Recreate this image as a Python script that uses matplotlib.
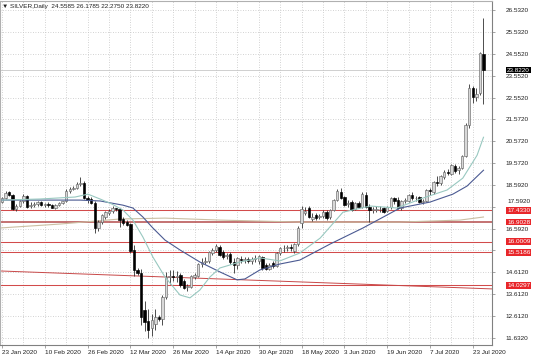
"""SILVER daily candlestick chart, MetaTrader style."""

import matplotlib

matplotlib.use("Agg")
import matplotlib.pyplot as plt
from matplotlib.ticker import FixedLocator
import matplotlib.transforms as mtransforms

# daily bars, 23 Jan 2020 .. 28 Jul 2020 (server calendar incl. 3 Sunday bars)
OPENS = [
    17.82, 17.98, 18.25, 18.12, 17.50, 17.62, 17.85, 18.08, 17.62, 17.68,
    17.70, 17.80, 17.68, 17.70, 17.66, 17.56, 17.68, 17.76, 17.86, 18.30,
    18.42, 18.46, 18.62, 18.68, 18.00, 17.95, 17.78, 16.62, 16.90, 17.15,
    17.30, 17.40, 17.52, 17.48, 17.05, 16.90, 16.80, 15.65, 14.72, 14.60,
    12.90, 12.40, 12.10, 12.25, 12.58, 12.50, 13.50, 14.40, 14.45, 14.40,
    14.50, 14.20, 13.95, 13.95, 14.40, 14.45, 14.98, 15.10, 15.15, 15.50,
    15.62, 15.75, 15.55, 15.35, 15.45, 15.10, 14.95, 15.20, 15.18, 15.20,
    15.15, 15.20, 15.15, 15.30, 14.95, 14.78, 15.05, 14.90, 15.48, 15.70,
    15.72, 15.75, 15.60, 15.90, 16.86, 17.30, 17.52, 17.05, 17.20, 17.15,
    17.18, 17.35, 17.12, 17.45, 17.90, 18.28, 18.02, 17.70, 17.80, 17.50,
    17.76, 17.58, 18.15, 17.58, 17.45, 17.47, 17.48, 17.52, 17.40, 17.58,
    17.98, 17.92, 17.52, 17.85, 17.88, 18.15, 17.98, 18.02, 17.82, 17.88,
    18.35, 18.25, 18.72, 18.68, 18.95, 19.20, 19.10, 19.45, 19.25, 19.35,
    19.90, 21.30, 22.99, 22.58, 22.76, 24.5585,
]
HIGHS = [
    18.05, 18.30, 18.32, 18.18, 17.70, 17.92, 18.20, 18.12, 17.80, 17.82,
    17.88, 17.85, 17.78, 17.80, 17.72, 17.72, 17.80, 17.88, 18.40, 18.50,
    18.55, 18.72, 18.95, 18.75, 18.10, 18.05, 17.85, 16.98, 17.25, 17.40,
    17.50, 17.62, 17.55, 17.55, 17.15, 17.00, 16.85, 15.85, 14.80, 14.75,
    13.30, 12.95, 12.70, 12.95, 12.65, 13.60, 14.62, 14.70, 14.70, 14.65,
    14.60, 14.30, 14.10, 14.50, 14.60, 15.05, 15.25, 15.30, 15.60, 15.70,
    15.92, 15.85, 15.65, 15.50, 15.55, 15.25, 15.30, 15.35, 15.30, 15.32,
    15.30, 15.40, 15.42, 15.35, 15.05, 15.05, 15.12, 15.55, 15.78, 15.85,
    15.85, 15.88, 15.95, 16.70, 17.62, 17.58, 17.62, 17.30, 17.30, 17.25,
    17.45, 17.45, 17.50, 17.95, 18.40, 18.45, 18.10, 17.90, 17.90, 17.82,
    17.85, 18.28, 18.25, 17.70, 17.58, 17.65, 17.62, 17.60, 17.65, 18.05,
    18.05, 18.02, 17.90, 17.98, 18.18, 18.25, 18.08, 18.10, 17.95, 18.40,
    18.45, 18.78, 19.00, 19.05, 19.25, 19.30, 19.55, 19.55, 19.45, 19.95,
    21.40, 23.20, 23.10, 23.00, 24.65, 26.1785,
]
LOWS = [
    17.75, 17.95, 18.08, 17.45, 17.40, 17.58, 17.78, 17.55, 17.55, 17.60,
    17.62, 17.62, 17.58, 17.58, 17.52, 17.50, 17.62, 17.70, 17.82, 18.22,
    18.35, 18.40, 18.55, 17.95, 17.78, 17.70, 16.40, 16.50, 16.82, 17.05,
    17.20, 17.30, 17.40, 16.68, 16.75, 16.70, 15.50, 14.45, 14.50, 12.20,
    11.95, 11.64, 11.70, 12.00, 12.40, 12.20, 13.40, 14.10, 14.20, 14.15,
    13.95, 13.85, 13.75, 13.90, 14.30, 14.40, 14.85, 15.00, 15.05, 15.40,
    15.55, 15.35, 15.20, 15.20, 15.00, 14.60, 14.75, 15.05, 15.05, 15.05,
    15.00, 15.10, 15.00, 14.70, 14.70, 14.70, 14.80, 14.85, 15.40, 15.55,
    15.58, 15.60, 15.50, 15.80, 16.65, 17.20, 17.10, 16.95, 17.00, 17.05,
    17.10, 17.00, 17.05, 17.40, 17.85, 17.95, 17.62, 17.60, 17.40, 17.45,
    17.55, 17.52, 17.55, 16.90, 17.32, 17.35, 17.35, 17.30, 17.35, 17.50,
    17.70, 17.48, 17.45, 17.75, 17.80, 17.92, 17.85, 17.75, 17.72, 17.82,
    18.15, 18.20, 18.55, 18.60, 18.85, 19.05, 19.05, 19.15, 19.10, 19.30,
    19.85, 21.20, 22.30, 22.40, 22.70, 22.2750,
]
CLOSES = [
    17.98, 18.22, 18.12, 17.50, 17.62, 17.85, 18.08, 17.60, 17.68, 17.72,
    17.80, 17.68, 17.70, 17.66, 17.56, 17.68, 17.76, 17.84, 18.32, 18.42,
    18.46, 18.65, 18.70, 18.00, 17.90, 17.76, 16.62, 16.90, 17.20, 17.35,
    17.42, 17.52, 17.48, 17.00, 16.85, 16.78, 15.60, 14.72, 14.60, 12.58,
    12.35, 11.98, 12.45, 12.58, 12.50, 13.50, 14.40, 14.45, 14.40, 14.45,
    14.05, 13.92, 13.95, 14.45, 14.50, 14.98, 15.10, 15.15, 15.52, 15.62,
    15.82, 15.42, 15.30, 15.38, 15.08, 14.95, 15.25, 15.18, 15.20, 15.15,
    15.20, 15.25, 15.35, 14.80, 14.78, 14.95, 14.88, 15.48, 15.70, 15.72,
    15.75, 15.72, 15.90, 16.62, 17.50, 17.42, 17.15, 17.15, 17.08, 17.17,
    17.35, 17.10, 17.45, 17.90, 18.32, 18.00, 17.68, 17.75, 17.45, 17.76,
    17.60, 18.20, 17.58, 17.45, 17.47, 17.48, 17.50, 17.38, 17.58, 17.98,
    17.85, 17.52, 17.85, 17.88, 18.12, 17.98, 17.98, 17.80, 17.85, 18.35,
    18.30, 18.72, 18.70, 19.00, 19.20, 19.15, 19.50, 19.22, 19.38, 19.90,
    21.30, 23.00, 22.58, 22.75, 24.60, 23.8220,
]

# moving averages as (bar, price) knots
MA_FAST = [
    (0, 17.90), (10.7, 17.95), (20.5, 18.04), (24.1, 18.17), (27.5, 17.95),
    (30.8, 17.72), (33.9, 17.45), (36.7, 16.99), (39.5, 16.22), (42.3, 15.31),
    (45.7, 14.40), (49.9, 13.58), (52.7, 13.45), (55.5, 13.81), (58.3, 14.40),
    (61.1, 14.81), (66.7, 15.08), (72.3, 15.27), (77.9, 15.13), (83.5, 15.49),
    (89.2, 16.17), (95.6, 17.35), (103.2, 17.63), (110.7, 17.54), (118.0, 17.99),
    (124.8, 18.36), (129.2, 18.90), (133.2, 19.94), (135.0, 20.76),
]
MA_SLOW = [
    (0, 17.90), (21.9, 17.90), (27.5, 17.86), (33.9, 17.67), (36.7, 17.54),
    (39.5, 17.13), (42.3, 16.63), (45.7, 16.08), (49.9, 15.63), (55.5, 15.08),
    (61.1, 14.63), (65.9, 14.27), (68.1, 14.31), (72.3, 14.72), (77.9, 14.99),
    (83.5, 15.17), (92.0, 15.90), (101.2, 16.63), (111.6, 17.54), (120.0, 17.81),
    (126.4, 18.17), (130.4, 18.54), (135.0, 19.26),
]
MA_LONG = [
    (-0.6, 16.63), (16.3, 16.81), (33.1, 17.04), (45.7, 17.08), (61.1, 16.99),
    (83.5, 16.90), (111.6, 16.90), (128.4, 16.99), (135.0, 17.13),
]

LEVELS = [17.4330, 16.9028, 16.0009, 15.5186, 14.0297]
TREND = [(-0.6, 14.674), (137.4, 13.857)]
LAST_PRICE = 23.8220

Y_TICKS = [26.532, 25.532, 24.552, 23.552, 22.552, 21.572, 20.572, 19.572,
           18.592, 17.592, 16.592, 15.612, 14.612, 13.612, 12.612, 11.632]
Y_LABELS = ["26.5320", "25.5320", "24.5520", "23.5520", "22.5520", "21.5720",
            "20.5720", "19.5720", "18.5920", "", "16.5920", "",
            "14.6120", "13.6120", "12.6120", "11.6320"]
HIDDEN_LABEL = (17.592, "17.5920")  # mostly covered by the 17.4330 box
X_TICKS = [0, 12, 24, 36, 48, 60, 72, 84, 96, 108, 120, 132]
X_LABELS = ["23 Jan 2020", "10 Feb 2020", "26 Feb 2020", "12 Mar 2020",
            "26 Mar 2020", "14 Apr 2020", "30 Apr 2020", "18 May 2020",
            "3 Jun 2020", "19 Jun 2020", "7 Jul 2020", "23 Jul 2020"]

FONT = ["Liberation Sans", "DejaVu Sans"]
FS = 4.6


def main():
    fig = plt.figure(figsize=(5.36, 3.57), dpi=100)
    ax = fig.add_axes([0.0, 0.034, 0.918, 0.963])

    n = len(CLOSES)
    xs = list(range(n))

    # candles
    for i in xs:
        o, h, l, c = OPENS[i], HIGHS[i], LOWS[i], CLOSES[i]
        ax.vlines(i, l, h, color="#303030", linewidth=0.6, zorder=3)
        bottom = min(o, c)
        height = max(abs(c - o), 0.035)
        if c >= o:
            ax.bar(i, height, bottom=bottom, width=0.68, color="#d8d8d8",
                   edgecolor="#6a6a6a", linewidth=0.45, zorder=4)
        else:
            ax.bar(i, height, bottom=bottom, width=0.68, color="#000000",
                   edgecolor="#000000", linewidth=0.45, zorder=4)

    # horizontal levels and trend line
    for lv in LEVELS:
        thick = lv == 16.9028
        ax.axhline(lv, color="#b44c4c" if thick else "#d24b4b",
                   linewidth=1.1 if thick else 0.75, zorder=2)
    ax.plot([p[0] for p in TREND], [p[1] for p in TREND],
            color="#c84848", linewidth=0.7, zorder=2)
    ax.axhline(LAST_PRICE, color="#c8c8c8", linewidth=0.6, zorder=1)

    # moving averages
    ax.plot([p[0] for p in MA_LONG], [p[1] for p in MA_LONG],
            color="#cbbfa3", linewidth=0.8, zorder=2)
    ax.plot([p[0] for p in MA_SLOW], [p[1] for p in MA_SLOW],
            color="#4b5a92", linewidth=0.8, zorder=5)
    ax.plot([p[0] for p in MA_FAST], [p[1] for p in MA_FAST],
            color="#98c8c0", linewidth=0.8, zorder=5)

    ax.set_xlim(-0.56, 137.4)
    ax.set_ylim(11.31, 26.96)

    # axes styling
    for side, sp in ax.spines.items():
        sp.set_color("#808080" if side in ("right", "bottom") else "#b0b0b0")
        sp.set_linewidth(0.8)

    ax.yaxis.tick_right()
    ax.set_yticks(Y_TICKS)
    ax.set_yticklabels(Y_LABELS, fontsize=FS, family=FONT, color="#202020")
    ax.tick_params(axis="y", length=2.2, width=0.5, pad=7.5, color="#808080")

    ax.set_xticks(X_TICKS)
    ax.set_xticklabels(X_LABELS, fontsize=FS, family=FONT, color="#202020",
                       ha="left")
    ax.xaxis.set_minor_locator(FixedLocator(list(range(6, 137, 12))))
    ax.tick_params(axis="x", which="major", length=2, width=0.5, pad=1.5,
                   color="#808080")
    ax.tick_params(axis="x", which="minor", length=0)

    ax.grid(True, which="both", color="#c4c4c4", linewidth=0.6,
            linestyle=(0, (1, 2)), zorder=0)

    # price labels on the axis
    trans = mtransforms.blended_transform_factory(ax.transAxes, ax.transData)
    ax.text(1.0305, HIDDEN_LABEL[0] + 0.14, HIDDEN_LABEL[1], transform=trans,
            fontsize=FS, family=FONT, color="#202020", va="bottom",
            ha="left", clip_on=False)
    for lv in LEVELS:
        ax.text(1.0305, lv, f"{lv:.4f}", transform=trans, fontsize=FS,
                family=FONT, color="white", va="center", ha="left",
                bbox=dict(boxstyle="square,pad=0.15", fc="#e8262a", ec="none"),
                clip_on=False, zorder=10)
    ax.text(1.0305, LAST_PRICE, f"{LAST_PRICE:.4f}", transform=trans,
            fontsize=FS, family=FONT, color="white", va="center", ha="left",
            bbox=dict(boxstyle="square,pad=0.15", fc="#000000", ec="none"),
            clip_on=False, zorder=10)

    header = "\u25bc SILVER,Daily  {:.4f} {:.4f} {:.4f} {:.4f}".format(
        OPENS[-1], HIGHS[-1], LOWS[-1], CLOSES[-1])
    ax.text(0.005, 0.992, header, transform=ax.transAxes, fontsize=FS,
            family=FONT, color="#202020", va="top", ha="left")

    fig.savefig("out.png", dpi=100, facecolor="white")
    plt.close(fig)


if __name__ == "__main__":
    main()
